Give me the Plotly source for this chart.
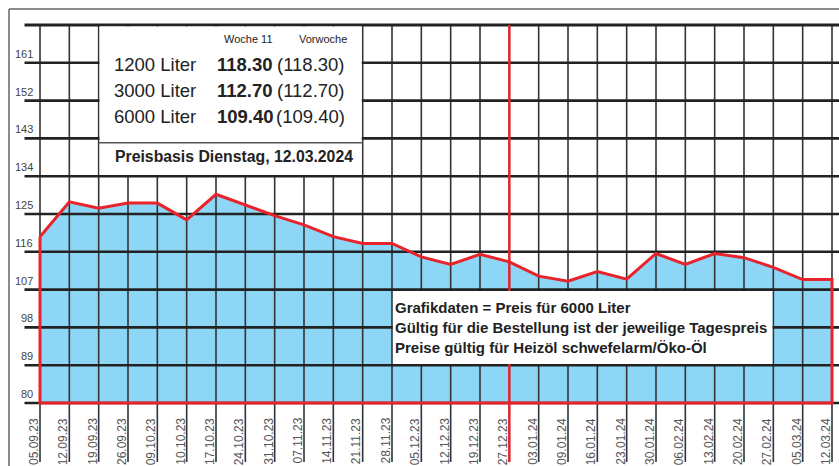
import plotly.graph_objects as go

# ---------------- data ----------------
dates = ["05.09.23", "12.09.23", "19.09.23", "26.09.23", "09.10.23", "10.10.23", "17.10.23",
         "24.10.23", "31.10.23", "07.11.23", "14.11.23", "21.11.23", "28.11.23", "05.12.23",
         "12.12.23", "19.12.23", "27.12.23", "03.01.24", "09.01.24", "16.01.24", "23.01.24",
         "30.01.24", "06.02.24", "13.02.24", "20.02.24", "27.02.24", "05.03.24", "12.03.24"]
price_6000 = [119.6, 127.9, 126.4, 127.6, 127.6, 123.6, 129.7,
              127.1, 124.6, 122.4, 119.6, 118.0, 118.0, 114.8,
              113.0, 115.4, 113.6, 110.2, 109.0, 111.3, 109.5,
              115.6, 113.0, 115.6, 114.6, 112.3, 109.4, 109.4]
y_ticks = [80, 89, 98, 107, 116, 125, 134, 143, 152, 161]
y_top = 170
marker_date = "27.12.23"

table_head = ["Woche 11", "Vorwoche"]
table_rows = ["1200 Liter", "3000 Liter", "6000 Liter"]
table_current = ["118.30", "112.70", "109.40"]
table_previous = ["118.30", "112.70", "109.40"]
price_basis = "Preisbasis Dienstag, 12.03.2024"
notes = ["Grafikdaten = Preis für 6000 Liter",
         "Gültig für die Bestellung ist der jeweilige Tagespreis",
         "Preise gültig für Heizöl schwefelarm/Öko-Öl"]

# ---------------- geometry / style ----------------
W, H = 839, 466
X0_PX, DX_PX = 40.0, (832.0 - 40.0) / (len(dates) - 1)
Y80_PX, PPU = 403.0, 4.2

def px_to_x(px):
    return (px - X0_PX) / DX_PX

def py_to_y(py):
    return y_ticks[0] + (Y80_PX - py) / PPU

def pxp(px):
    return px / W

def pyp(py):
    return 1 - py / H

BLUE = "#8ed6f5"
RED = "#e8232b"
GRID_H = "#222222"
GRID_V = "#333333"
SANS = "Liberation Sans, Arial, Helvetica, sans-serif"

idx = list(range(len(dates)))
y_min = y_ticks[0]

fig = go.Figure()

# area fill
poly_x = idx + [idx[-1], idx[0], idx[0]]
poly_y = price_6000 + [y_min, y_min, price_6000[0]]
fig.add_trace(go.Scatter(x=poly_x, y=poly_y, mode="lines", fill="toself",
                         fillcolor=BLUE, line=dict(width=0), hoverinfo="skip"))

# vertical grid lines
v_bottom = py_to_y(462)
vx, vy = [], []
for i in idx:
    vx += [i, i, None]
    vy += [v_bottom, y_top, None]
fig.add_trace(go.Scatter(x=vx, y=vy, mode="lines",
                         line=dict(color=GRID_V, width=1.6), hoverinfo="skip"))

# horizontal grid lines
h_left = px_to_x(24.5)
h_right = px_to_x(W + 2)
hx, hy = [], []
for t in y_ticks:
    hx += [h_left, h_right, None]
    hy += [t, t, None]
fig.add_trace(go.Scatter(x=hx, y=hy, mode="lines",
                         line=dict(color=GRID_H, width=2.6), hoverinfo="skip"))
fig.add_trace(go.Scatter(x=[h_left, h_right], y=[y_top, y_top], mode="lines",
                         line=dict(color=GRID_H, width=3.2), hoverinfo="skip"))

# red marker line
k = dates.index(marker_date)
fig.add_trace(go.Scatter(x=[k, k], y=[v_bottom, y_top], mode="lines",
                         line=dict(color=RED, width=2.4), hoverinfo="skip"))

# red outline of the area
fig.add_trace(go.Scatter(x=poly_x, y=poly_y, mode="lines",
                         line=dict(color=RED, width=3), hoverinfo="skip"))

# ---------------- boxes ----------------
shapes = []
# outer frame
shapes.append(dict(type="line", xref="paper", yref="paper", x0=pxp(9), x1=pxp(W + 2),
                   y0=pyp(9), y1=pyp(9), line=dict(color="#666666", width=1.5), layer="above"))
shapes.append(dict(type="line", xref="paper", yref="paper", x0=pxp(9), x1=pxp(9),
                   y0=pyp(9), y1=pyp(H + 2), line=dict(color="#666666", width=1.5), layer="above"))
# table box (white, inside grid cells)
inset_x = 0.9 / DX_PX
shapes.append(dict(type="rect", xref="x", yref="y", x0=2 + inset_x, x1=11 - inset_x,
                   y0=134 + 1.3 / PPU, y1=y_top - 1.6 / PPU,
                   fillcolor="white", line=dict(width=0), layer="above"))
shapes.append(dict(type="line", xref="x", yref="y", x0=2, x1=11,
                   y0=py_to_y(142.7), y1=py_to_y(142.7),
                   line=dict(color="#555555", width=1.5), layer="above"))
# note box
shapes.append(dict(type="rect", xref="x", yref="y", x0=12 + inset_x, x1=25 - inset_x,
                   y0=89 + 1.3 / PPU, y1=107 - 1.3 / PPU,
                   fillcolor="white", line=dict(width=0), layer="above"))

# ---------------- annotations ----------------
ann = []
# y tick labels
for t in y_ticks:
    ann.append(dict(x=pxp(34.5), xref="paper", y=t, yref="y", text=str(t),
                    xanchor="right", yanchor="bottom", yshift=1, showarrow=False,
                    font=dict(family=SANS, size=11, color="#444444")))
# x tick labels
for i, d in zip(idx, dates):
    ann.append(dict(x=i, xref="x", y=y_min, yref="y", text=d, textangle=-90,
                    xanchor="center", yanchor="top", xshift=-6.5, yshift=-13,
                    showarrow=False, font=dict(family=SANS, size=12, color="#555555")))

# table header
for txt, cx in zip(table_head, [248, 322.5]):
    ann.append(dict(x=pxp(cx), y=pyp(39.5), xref="paper", yref="paper", text=txt,
                    xanchor="center", yanchor="middle", showarrow=False,
                    font=dict(family=SANS, size=11, color="#222222")))
row_cy = [64.7, 90.6, 116.4]
for lab, cur, prev, cy in zip(table_rows, table_current, table_previous, row_cy):
    ann.append(dict(x=pxp(112), y=pyp(cy), xref="paper", yref="paper", text=lab,
                    xanchor="left", yanchor="middle", showarrow=False,
                    font=dict(family=SANS, size=18.5, color="#222222")))
    ann.append(dict(x=pxp(215), y=pyp(cy), xref="paper", yref="paper", text="<b>" + cur + "</b>",
                    xanchor="left", yanchor="middle", showarrow=False,
                    font=dict(family=SANS, size=18.5, color="#222222")))
    ann.append(dict(x=pxp(347), y=pyp(cy), xref="paper", yref="paper", text="(" + prev + ")",
                    xanchor="right", yanchor="middle", showarrow=False,
                    font=dict(family=SANS, size=18.5, color="#222222")))
ann.append(dict(x=pxp(113), y=pyp(156.6), xref="paper", yref="paper", text="<b>" + price_basis + "</b>",
                xanchor="left", yanchor="middle", showarrow=False,
                font=dict(family=SANS, size=15.8, color="#222222")))

# notes
for txt, cy in zip(notes, [307.6, 327.6, 347.6]):
    ann.append(dict(x=pxp(393), y=pyp(cy), xref="paper", yref="paper", text="<b>" + txt + "</b>",
                    xanchor="left", yanchor="middle", showarrow=False,
                    font=dict(family=SANS, size=15, color="#222222")))

fig.update_layout(
    width=W, height=H,
    margin=dict(l=0, r=0, t=0, b=0),
    paper_bgcolor="white", plot_bgcolor="white",
    showlegend=False, hovermode=False,
    xaxis=dict(range=[px_to_x(0), px_to_x(W)], visible=False, fixedrange=True),
    yaxis=dict(range=[py_to_y(H), py_to_y(0)], visible=False, fixedrange=True),
    shapes=shapes, annotations=ann,
)

fig.write_html("out.html", config={"displayModeBar": False},
               post_script="document.body.style.margin='0px';document.body.style.overflow='hidden';")
